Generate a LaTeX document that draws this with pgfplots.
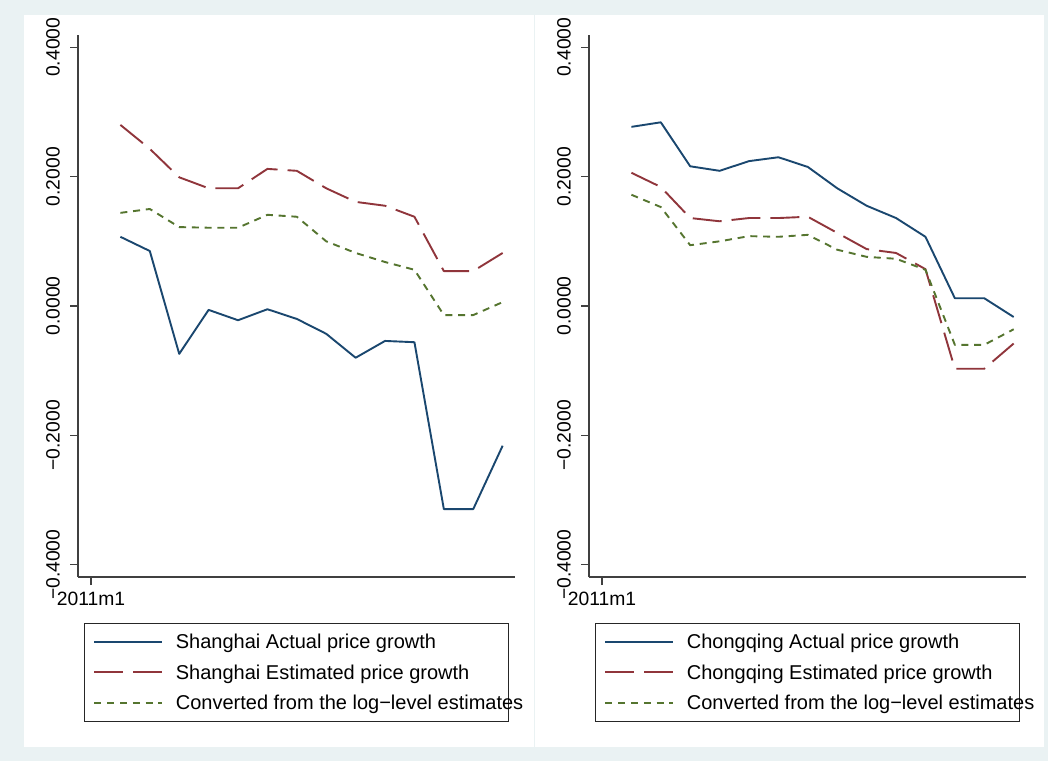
\documentclass[border=0pt]{standalone}
\usepackage{fontspec}
\setmainfont{Liberation Sans}
\usepackage{pgfplots}
\usepackage{pgfplotstable}
\pgfplotsset{compat=1.18}
\definecolor{sbg}{RGB}{234,242,243}
\definecolor{snavy}{RGB}{26,71,111}
\definecolor{smaroon}{RGB}{144,53,59}
\definecolor{sgreen}{RGB}{85,117,47}

\pgfplotstableread{
i act est conv
1 0.107 0.280 0.144
2 0.085 0.243 0.150
3 -0.074 0.199 0.122
4 -0.006 0.182 0.121
5 -0.022 0.182 0.121
6 -0.005 0.212 0.141
7 -0.020 0.209 0.138
8 -0.043 0.182 0.100
9 -0.080 0.161 0.082
10 -0.054 0.155 0.068
11 -0.056 0.138 0.056
12 -0.314 0.054 -0.014
13 -0.314 0.054 -0.014
14 -0.216 0.082 0.006
}\shanghai

\pgfplotstableread{
i act est conv
1 0.277 0.206 0.172
2 0.284 0.184 0.153
3 0.216 0.136 0.094
4 0.209 0.131 0.100
5 0.224 0.136 0.108
6 0.230 0.136 0.107
7 0.215 0.138 0.110
8 0.182 0.113 0.087
9 0.155 0.088 0.076
10 0.136 0.082 0.073
11 0.107 0.057 0.056
12 0.012 -0.097 -0.060
13 0.012 -0.097 -0.060
14 -0.017 -0.058 -0.036
}\chongqing

\pgfplotsset{
  statastyle/.style={
    scale only axis, width=437pt, height=542pt,
    anchor=south west,
    xmin=-0.442, xmax=14.42, ymin=-0.419, ymax=0.419,
    axis x line*=bottom, axis y line*=left,
    axis line style={-, line width=1.2pt, color=black!75},
    xtick={0}, xticklabels={2011m1},
    ytick={-0.4,-0.2,0,0.2,0.4},
    yticklabels={−0.4000,−0.2000,0.0000,0.2000,0.4000},
    tick align=outside, major tick length=8pt,
    tick style={line width=1.2pt, color=black!75},
    ticklabel style={font=\fontsize{19.3}{22}\selectfont, inner sep=0pt},
    yticklabel style={rotate=90, anchor=south},
    yticklabel shift=10pt,
    xticklabel style={anchor=north},
    xticklabel shift=7pt,
    legend cell align=left,
    legend style={at={(axis description cs:0.01373,-0.08487)}, anchor=north west,
      draw=black!85, line width=1pt, font=\fontsize{20}{24}\selectfont,
      inner xsep=9pt, inner ysep=11pt, row sep=15.7pt, column sep=12.5pt,
      nodes={inner sep=0pt, text height=14.4pt, text depth=0.4pt}},
    legend image code/.code={\draw[##1] (0pt,0pt) -- (68pt,0pt);},
  },
  actual/.style={snavy, line width=1.9pt, line join=round},
  estim/.style={smaroon, line width=1.9pt, line join=round, dash pattern=on 29pt off 10pt},
  conv/.style={sgreen, line width=1.9pt, line join=round, dash pattern=on 7pt off 5.8pt},
}

\begin{document}
\begin{tikzpicture}
\fill[sbg] (0pt,0pt) rectangle (1048pt,761pt);
\fill[white] (24pt,14pt) rectangle (534pt,746pt);
\fill[white] (535pt,14pt) rectangle (1044pt,746pt);

\begin{axis}[statastyle, at={(78pt,184pt)}]
\addplot[actual] table[x=i,y=act]{\shanghai};
\addplot[estim] table[x=i,y=est]{\shanghai};
\addplot[conv] table[x=i,y=conv]{\shanghai};
\addlegendentry{\makebox[324pt][l]{Shanghai Actual price growth}}
\addlegendentry{\makebox[324pt][l]{Shanghai Estimated price growth}}
\addlegendentry{\makebox[324pt][l]{Converted from the log−level estimates}}
\end{axis}

\begin{axis}[statastyle, at={(589pt,184pt)}]
\addplot[actual] table[x=i,y=act]{\chongqing};
\addplot[estim] table[x=i,y=est]{\chongqing};
\addplot[conv] table[x=i,y=conv]{\chongqing};
\addlegendentry{\makebox[324pt][l]{Chongqing Actual price growth}}
\addlegendentry{\makebox[324pt][l]{Chongqing Estimated price growth}}
\addlegendentry{\makebox[324pt][l]{Converted from the log−level estimates}}
\end{axis}

\pgfresetboundingbox
\useasboundingbox (0pt,0pt) rectangle (1048pt,761pt);
\end{tikzpicture}
\end{document}
